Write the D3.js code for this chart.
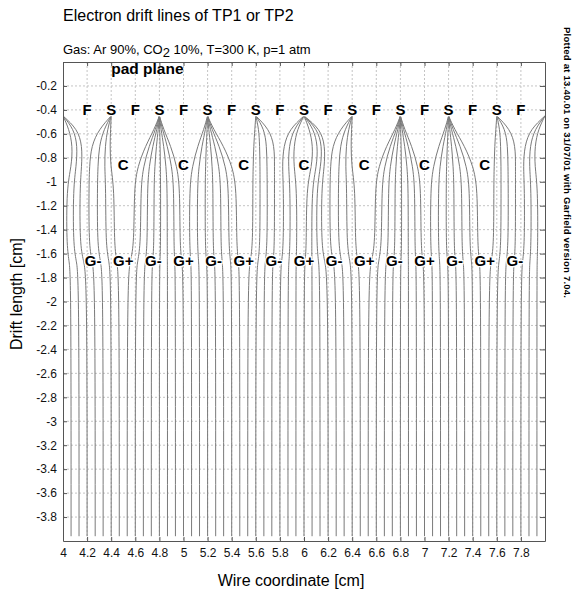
<!DOCTYPE html>
<html>
<head>
<meta charset="utf-8">
<script src="https://cdn.jsdelivr.net/npm/d3@7"></script>
<style>
body { margin: 0; background: #fff; }
text { font-family: "Liberation Sans", Arial, Helvetica, sans-serif; }
</style>
</head>
<body>
<svg class="chart" width="583" height="591"></svg>
<script>
// axis ticks
var xTicks = [4, 4.2, 4.4, 4.6, 4.8, 5, 5.2, 5.4, 5.6, 5.8, 6, 6.2, 6.4, 6.6, 6.8, 7, 7.2, 7.4, 7.6, 7.8];
var yTicks = [-0.2, -0.4, -0.6, -0.8, -1, -1.2, -1.4, -1.6, -1.8, -2, -2.2, -2.4, -2.6, -2.8, -3, -3.2, -3.4, -3.6, -3.8];

// wire labels
var fieldWires = [4.2, 4.6, 5.0, 5.4, 5.8, 6.2, 6.6, 7.0, 7.4, 7.8];
var senseWires = [4.4, 4.8, 5.2, 5.6, 6.0, 6.4, 6.8, 7.2, 7.6];
var cathodeWires = [4.5, 5.0, 5.5, 6.0, 6.5, 7.0, 7.5];
var gateMinus = [4.25, 4.75, 5.25, 5.75, 6.25, 6.75, 7.25, 7.75];
var gatePlus = [4.5, 5.0, 5.5, 6.0, 6.5, 7.0, 7.5];
var anodeRowY = -0.4, cathodeRowY = -0.86, gateRowY = -1.66;

// drift lines: x (cm) of each line at these drift lengths
var driftLevels = [-3.96, -1.80, -1.66, -1.52, -1.05, -0.87, -0.70, -0.56, -0.45];
var driftLines = [
  [4.067, 4.067, 4.05, 4.03, 4.03, 4.07, 4.08, 4.05, 4.0],
  [4.133, 4.133, 4.11, 4.085, 4.085, 4.11, 4.12, 4.09, 4.0],
  [4.2, 4.2, 4.17, 4.14, 4.14, 4.155, 4.16, 4.12, 4.0],
  [4.267, 4.267, 4.24, 4.215, 4.215, 4.22, 4.235, 4.3, 4.4],
  [4.333, 4.333, 4.31, 4.285, 4.285, 4.29, 4.3, 4.34, 4.4],
  [4.4, 4.4, 4.38, 4.355, 4.355, 4.345, 4.35, 4.37, 4.4],
  [4.467, 4.467, 4.445, 4.425, 4.425, 4.395, 4.39, 4.395, 4.4],
  [4.533, 4.533, 4.56, 4.59, 4.59, 4.62, 4.685, 4.758, 4.8],
  [4.6, 4.6, 4.62, 4.645, 4.645, 4.668, 4.715, 4.769, 4.8],
  [4.667, 4.667, 4.685, 4.7, 4.7, 4.715, 4.745, 4.78, 4.8],
  [4.733, 4.733, 4.745, 4.755, 4.755, 4.762, 4.775, 4.791, 4.8],
  [4.8, 4.8, 4.805, 4.81, 4.81, 4.808, 4.806, 4.802, 4.8],
  [4.867, 4.867, 4.866, 4.865, 4.865, 4.855, 4.836, 4.813, 4.8],
  [4.933, 4.933, 4.927, 4.92, 4.92, 4.902, 4.866, 4.824, 4.8],
  [5.0, 5.0, 4.985, 4.97, 4.97, 4.945, 4.894, 4.834, 4.8],
  [5.067, 5.067, 5.06, 5.05, 5.05, 5.073, 5.118, 5.17, 5.2],
  [5.133, 5.133, 5.125, 5.115, 5.115, 5.128, 5.153, 5.183, 5.2],
  [5.2, 5.2, 5.19, 5.18, 5.18, 5.183, 5.189, 5.196, 5.2],
  [5.267, 5.267, 5.255, 5.245, 5.245, 5.238, 5.225, 5.209, 5.2],
  [5.333, 5.333, 5.32, 5.31, 5.31, 5.294, 5.26, 5.222, 5.2],
  [5.4, 5.4, 5.39, 5.375, 5.375, 5.349, 5.296, 5.235, 5.2],
  [5.467, 5.467, 5.455, 5.44, 5.44, 5.404, 5.332, 5.248, 5.2],
  [5.533, 5.533, 5.555, 5.575, 5.575, 5.578, 5.583, 5.592, 5.6],
  [5.6, 5.6, 5.62, 5.635, 5.635, 5.635, 5.632, 5.625, 5.6],
  [5.667, 5.667, 5.68, 5.695, 5.695, 5.693, 5.69, 5.67, 5.6],
  [5.733, 5.733, 5.745, 5.755, 5.755, 5.755, 5.755, 5.71, 5.6],
  [5.8, 5.8, 5.815, 5.83, 5.83, 5.82, 5.83, 5.88, 6.0],
  [5.867, 5.867, 5.875, 5.885, 5.885, 5.87, 5.875, 5.915, 6.0],
  [5.933, 5.933, 5.935, 5.94, 5.94, 5.915, 5.915, 5.945, 6.0],
  [6.0, 6.0, 6.01, 6.02, 6.02, 6.065, 6.075, 6.045, 6.0],
  [6.067, 6.067, 6.065, 6.065, 6.065, 6.105, 6.115, 6.08, 6.0],
  [6.133, 6.133, 6.12, 6.105, 6.105, 6.14, 6.15, 6.11, 6.0],
  [6.2, 6.2, 6.17, 6.145, 6.145, 6.17, 6.175, 6.135, 6.0],
  [6.267, 6.267, 6.24, 6.215, 6.215, 6.22, 6.235, 6.3, 6.4],
  [6.333, 6.333, 6.31, 6.285, 6.285, 6.29, 6.3, 6.34, 6.4],
  [6.4, 6.4, 6.38, 6.355, 6.355, 6.345, 6.35, 6.37, 6.4],
  [6.467, 6.467, 6.445, 6.425, 6.425, 6.395, 6.39, 6.395, 6.4],
  [6.533, 6.533, 6.56, 6.59, 6.59, 6.62, 6.685, 6.758, 6.8],
  [6.6, 6.6, 6.62, 6.645, 6.645, 6.668, 6.715, 6.769, 6.8],
  [6.667, 6.667, 6.685, 6.7, 6.7, 6.715, 6.745, 6.78, 6.8],
  [6.733, 6.733, 6.745, 6.755, 6.755, 6.762, 6.775, 6.791, 6.8],
  [6.8, 6.8, 6.805, 6.81, 6.81, 6.808, 6.806, 6.802, 6.8],
  [6.867, 6.867, 6.866, 6.865, 6.865, 6.855, 6.836, 6.813, 6.8],
  [6.933, 6.933, 6.927, 6.92, 6.92, 6.902, 6.866, 6.824, 6.8],
  [7.0, 7.0, 6.985, 6.97, 6.97, 6.945, 6.894, 6.834, 6.8],
  [7.067, 7.067, 7.06, 7.05, 7.05, 7.073, 7.118, 7.17, 7.2],
  [7.133, 7.133, 7.125, 7.115, 7.115, 7.128, 7.153, 7.183, 7.2],
  [7.2, 7.2, 7.19, 7.18, 7.18, 7.183, 7.189, 7.196, 7.2],
  [7.267, 7.267, 7.255, 7.245, 7.245, 7.238, 7.225, 7.209, 7.2],
  [7.333, 7.333, 7.32, 7.31, 7.31, 7.294, 7.26, 7.222, 7.2],
  [7.4, 7.4, 7.39, 7.375, 7.375, 7.349, 7.296, 7.235, 7.2],
  [7.467, 7.467, 7.455, 7.44, 7.44, 7.404, 7.332, 7.248, 7.2],
  [7.533, 7.533, 7.555, 7.575, 7.575, 7.578, 7.583, 7.592, 7.6],
  [7.6, 7.6, 7.62, 7.635, 7.635, 7.635, 7.632, 7.625, 7.6],
  [7.667, 7.667, 7.68, 7.695, 7.695, 7.693, 7.69, 7.67, 7.6],
  [7.733, 7.733, 7.745, 7.755, 7.755, 7.755, 7.755, 7.71, 7.6],
  [7.8, 7.8, 7.815, 7.83, 7.83, 7.82, 7.83, 7.88, 8.0],
  [7.867, 7.867, 7.875, 7.885, 7.885, 7.87, 7.875, 7.915, 8.0],
  [7.933, 7.933, 7.935, 7.94, 7.94, 7.915, 7.915, 7.945, 8.0]
];

var margin = {top: 62, right: 38, bottom: 50, left: 63},
    width = 482,
    height = 479;

var x = d3.scaleLinear().domain([4, 8]).range([0, width]);
var y = d3.scaleLinear().domain([0, -4]).range([0, height]);

var svg = d3.select(".chart");

var chart = svg.append("g")
    .attr("transform", "translate(" + margin.left + "," + margin.top + ")");

chart.append("clipPath")
    .attr("id", "plotclip")
  .append("rect")
    .attr("width", width)
    .attr("height", height);

// dotted grid
chart.append("g").selectAll("line")
    .data(xTicks.slice(1))
  .enter().append("line")
    .attr("x1", function(d) { return x(d); })
    .attr("x2", function(d) { return x(d); })
    .attr("y1", 0)
    .attr("y2", height)
    .attr("stroke", "#c4c4c4")
    .attr("stroke-dasharray", "2,2");

chart.append("g").selectAll("line")
    .data(yTicks)
  .enter().append("line")
    .attr("x1", 0)
    .attr("x2", width)
    .attr("y1", function(d) { return y(d); })
    .attr("y2", function(d) { return y(d); })
    .attr("stroke", "#c4c4c4")
    .attr("stroke-dasharray", "2,2");

// drift lines
var line = d3.line()
    .x(function(d) { return x(d); })
    .y(function(d, i) { return y(driftLevels[i]); })
    .curve(d3.curveBasis);

chart.append("g")
    .attr("clip-path", "url(#plotclip)")
  .selectAll("path")
    .data(driftLines)
  .enter().append("path")
    .attr("d", line)
    .attr("fill", "none")
    .attr("stroke", "#7a7a7a")
    .attr("stroke-width", 1);

// axes, ticks inward on all four sides
function fmt(d) { return String(+d.toFixed(1)); }

chart.append("g")
    .attr("class", "axis")
    .attr("transform", "translate(0," + height + ")")
    .call(d3.axisBottom(x).tickValues(xTicks).tickSize(-4).tickSizeOuter(0).tickPadding(7).tickFormat(fmt));

chart.append("g")
    .attr("class", "axis")
    .call(d3.axisTop(x).tickValues(xTicks).tickSize(-4).tickSizeOuter(0).tickFormat(""));

chart.append("g")
    .attr("class", "axis")
    .call(d3.axisLeft(y).tickValues(yTicks).tickSize(-4).tickSizeOuter(0).tickPadding(6).tickFormat(fmt));

chart.append("g")
    .attr("class", "axis")
    .attr("transform", "translate(" + width + ",0)")
    .call(d3.axisRight(y).tickValues(yTicks).tickSize(-5).tickSizeOuter(0).tickFormat(""));

chart.selectAll(".axis path, .axis line")
    .attr("stroke", "#555");
chart.selectAll(".axis text")
    .style("font-family", "'Liberation Sans', Arial, sans-serif")
    .style("font-size", "12px")
    .attr("fill", "#111");

// wire labels, white halo keeps the drift lines off the glyphs
function wireLabels(xs, yv, label) {
  chart.append("g").selectAll("text")
      .data(xs)
    .enter().append("text")
      .attr("x", function(d) { return x(d); })
      .attr("y", y(yv))
      .attr("dy", "0.36em")
      .attr("text-anchor", "middle")
      .attr("stroke", "#fff")
      .attr("stroke-width", 2.5)
      .attr("paint-order", "stroke")
      .style("font-size", "15px")
      .style("font-weight", "bold")
      .text(label);
}
wireLabels(fieldWires, anodeRowY, "F");
wireLabels(senseWires, anodeRowY, "S");
wireLabels(cathodeWires, cathodeRowY, "C");
wireLabels(gateMinus, gateRowY, "G-");
wireLabels(gatePlus, gateRowY, "G+");

chart.append("text")
    .attr("x", x(4.4))
    .attr("y", 12)
    .style("font-size", "15.5px")
    .style("font-weight", "bold")
    .text("pad plane");

// titles
svg.append("text")
    .attr("x", 63)
    .attr("y", 21)
    .style("font-size", "16px")
    .text("Electron drift lines of TP1 or TP2");

var sub = svg.append("text")
    .attr("x", 63)
    .attr("y", 54)
    .style("font-size", "13px");
sub.append("tspan").text("Gas: Ar 90%, CO");
sub.append("tspan").attr("dy", 3).text("2");
sub.append("tspan").attr("dy", -3).text(" 10%, T=300 K, p=1 atm");

svg.append("text")
    .attr("x", 291)
    .attr("y", 586)
    .attr("text-anchor", "middle")
    .style("font-size", "16px")
    .text("Wire coordinate [cm]");

svg.append("text")
    .attr("transform", "translate(22,294) rotate(-90)")
    .attr("text-anchor", "middle")
    .style("font-size", "16px")
    .text("Drift length [cm]");

svg.append("text")
    .attr("transform", "translate(564,27) rotate(90)")
    .attr("textLength", 271)
    .attr("lengthAdjust", "spacing")
    .style("font-size", "9.5px")
    .style("font-weight", "bold")
    .text("Plotted at 13.40.01 on 31/07/01 with Garfield version 7.04.");
</script>
</body>
</html>
